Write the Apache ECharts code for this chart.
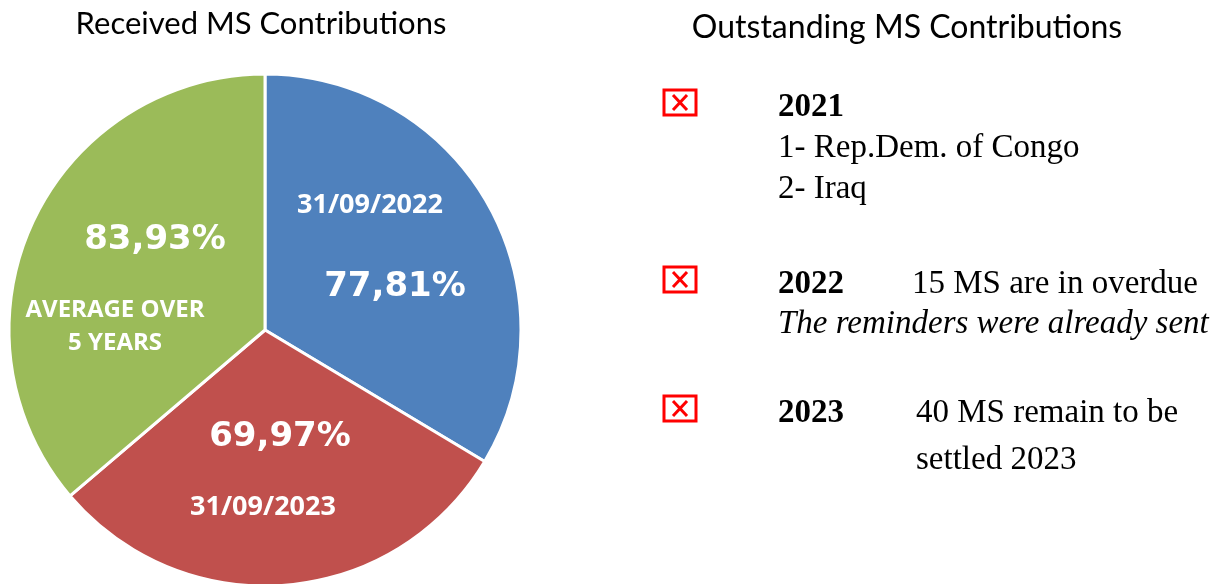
<!DOCTYPE html>
<html>
<head>
<meta charset="utf-8">
<script src="https://cdn.jsdelivr.net/npm/echarts@6/dist/echarts.min.js"></script>
<style>
html,body{margin:0;padding:0;background:#fff;}
#main{width:1224px;height:584px;}
</style>
</head>
<body>
<div id="main"></div>
<script>
// pie data
var sliceNames = ['31/09/2022', '31/09/2023', 'AVERAGE OVER\n5 YEARS'];
var sliceValues = [77.81, 69.97, 83.93];
var sliceColors = ['#4F81BD', '#C0504D', '#9BBB59'];

// outstanding list
var listYears = ['2021', '2022', '2023'];
var listLines = [
  ['1- Rep.Dem. of Congo', '2- Iraq'],
  ['15 MS are in overdue'],
  ['40 MS remain to be', 'settled 2023']
];
var listNotes = ['', 'The reminders were already sent', ''];

var chart = echarts.init(document.getElementById('main'));

function pct(v) {
  return v.toFixed(2).replace('.', ',') + '%';
}

// where the two labels of each slice sit
var pctPos = [[395, 287], [280, 437], [155, 240]];
var namePos = [[370, 205], [263, 507], [115, 327]];
var nameSize = [27, 27, 24];

var graphics = [];
for (var i = 0; i < sliceValues.length; i++) {
  graphics.push({
    type: 'text', x: pctPos[i][0], y: pctPos[i][1], z: 10,
    style: { text: pct(sliceValues[i]), fill: '#fff', align: 'center', verticalAlign: 'middle',
      font: 'bold 34px "DejaVu Sans"' }
  });
  graphics.push({
    type: 'text', x: namePos[i][0], y: namePos[i][1], z: 10,
    style: { text: sliceNames[i], fill: '#fff', align: 'center', verticalAlign: 'middle',
      font: 'bold ' + nameSize[i] + 'px "Open Sans"', lineHeight: 33 }
  });
}

graphics.push({
  type: 'text', x: 907, y: 28,
  style: { text: 'Outstanding MS Contributions', fill: '#000', align: 'center', verticalAlign: 'middle',
    font: '32px Lato' }
});

// list on the right
var serif = '"Liberation Serif"';
var blockTop = [107, 284, 413];
var lineGap = 41;
for (var k = 0; k < listYears.length; k++) {
  var y0 = blockTop[k];
  // red boxed cross
  graphics.push({
    type: 'group', x: 664, y: y0 - 17,
    children: [
      { type: 'rect', shape: { x: 0, y: 0, width: 32, height: 25 }, style: { fill: '#fff', stroke: '#FF0000', lineWidth: 3 } },
      { type: 'line', shape: { x1: 9, y1: 5, x2: 23, y2: 20 }, style: { stroke: '#FF0000', lineWidth: 3 } },
      { type: 'line', shape: { x1: 23, y1: 5, x2: 9, y2: 20 }, style: { stroke: '#FF0000', lineWidth: 3 } }
    ]
  });
  graphics.push({
    type: 'text', x: 778, y: y0,
    style: { text: listYears[k], fill: '#000', verticalAlign: 'middle', font: 'bold 33px ' + serif }
  });
  var lines = listLines[k];
  for (var j = 0; j < lines.length; j++) {
    var lx = 778, ly = y0 + (j + 1) * lineGap;
    if (k > 0) { lx = (k == 1 ? 912 : 916); ly = y0 + j * 47; }
    graphics.push({
      type: 'text', x: lx, y: ly,
      style: { text: lines[j], fill: '#000', verticalAlign: 'middle', font: '33px ' + serif }
    });
  }
  if (listNotes[k]) {
    graphics.push({
      type: 'text', x: 778, y: y0 + 40,
      style: { text: listNotes[k], fill: '#000', verticalAlign: 'middle', font: 'italic 33px ' + serif }
    });
  }
}

chart.setOption({
  backgroundColor: '#fff',
  animation: false,
  title: {
    text: 'Received MS Contributions',
    left: 256, top: 3, textAlign: 'center',
    textStyle: { fontFamily: 'Lato', fontWeight: 'normal', fontSize: 31, color: '#000' }
  },
  series: [{
    type: 'pie',
    center: [265, 330],
    radius: 256,
    startAngle: 90,
    clockwise: true,
    label: { show: false },
    labelLine: { show: false },
    itemStyle: { borderColor: '#fff', borderWidth: 3 },
    data: sliceValues.map(function (v, i) {
      return { name: sliceNames[i], value: v, itemStyle: { color: sliceColors[i] } };
    })
  }],
  graphic: graphics
});
</script>
</body>
</html>
